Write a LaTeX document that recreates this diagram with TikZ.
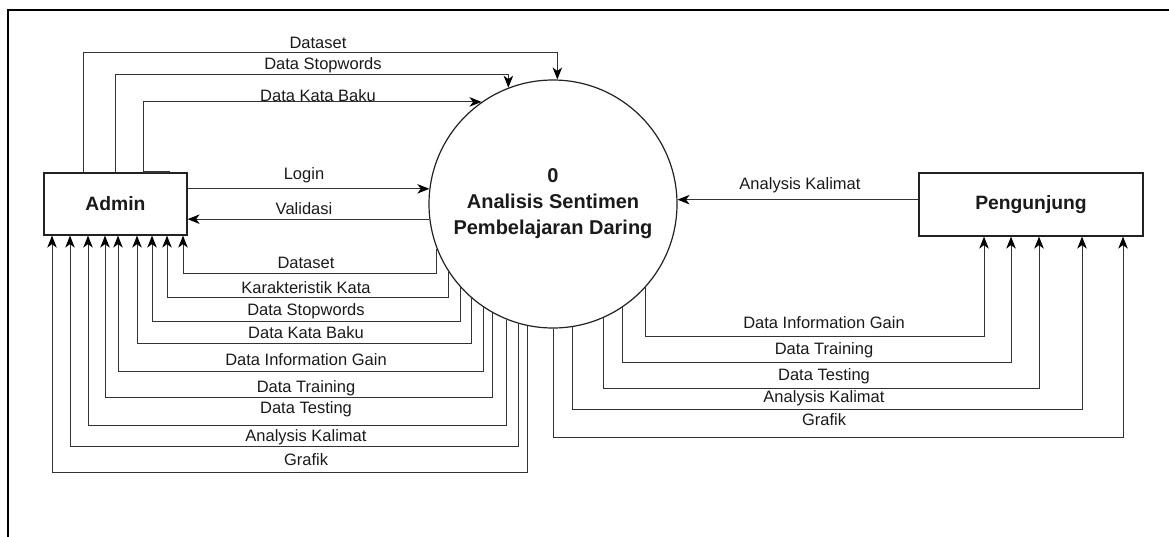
\documentclass[tikz,border=0pt]{standalone}
\usepackage{fontspec}
\setmainfont{Liberation Sans}
\usetikzlibrary{arrows.meta,calc}
\definecolor{linec}{HTML}{333333}
\definecolor{boxc}{HTML}{222222}
\definecolor{txtc}{HTML}{1A1A1A}
\begin{document}
\begin{tikzpicture}[x=1pt,y=-1pt,
  flow/.style={draw=linec, line width=1pt, -{Stealth[length=12pt,width=9.5pt,inset=3.5pt,color=black,fill=black]}},
  ent/.style={draw=boxc, line width=1.2pt, fill=white, text=txtc,
    font=\bfseries\fontsize{19.3}{23}\selectfont, inner sep=0pt},
  proc/.style={circle, draw=boxc, line width=1.2pt, fill=white, text=txtc,
    minimum size=248pt, inner sep=0pt, align=center,
    font=\bfseries\fontsize{20}{26}\selectfont},
  lbl/.style={font=\fontsize{16.5}{20}\selectfont, text=txtc, inner sep=0pt},
]
\useasboundingbox (0,0) rectangle (1169,536);

% page frame
\draw[line width=2pt, black] (7.5,540) -- (7.5,10) -- (1172,10);

% external entities and the process
\node[ent, minimum width=143pt, minimum height=62pt] (adm) at (115.5,204) {Admin};
\node[ent, minimum width=224pt, minimum height=63pt] (pg) at (1031,204.5) {Pengunjung};
\node[proc] (c) at (553,204) {0\\Analisis Sentimen\\Pembelajaran Daring};

% Admin -> process, routed over the top
\coordinate (t1) at (83,52);
\coordinate (t2) at (115,74);
\coordinate (t3) at (143,103);
\draw[flow] (t1 |- adm.north) -- (t1) -| (c.88.6);
\draw[flow] (t2 |- adm.north) -- (t2) -| (c.111.8);
\draw[line width=2pt, linec] (t3 |- adm.north) -- ++(27,0);
\draw[flow] (t3 |- adm.north) |- (c.125.5);
\node[lbl] (lt1) at (318,43) {Dataset};
\node[lbl] (lt2) at (323,65) {Data Stopwords};
\node[lbl] (lt3) at (318,96) {Data Kata Baku};

% login / validation
\draw[flow] (c.173.08 -| adm.east) -- (c.173.08);
\draw[flow] (c.187.85) -- (c.187.85 -| adm.east);
\node[lbl] (llog) at (304,175) {Login};
\node[lbl] (lval) at (304,209) {Validasi};

% Pengunjung -> process
\draw[flow] (c.2.76 -| pg.west) -- (c.2.76);
\node[lbl] (lpg) at (800,185) {Analysis Kalimat};

% process -> Admin, routed underneath
\foreach \cx/\yl/\ax/\ly/\txt [count=\i] in {
    437/273/183/263/Dataset,
    448/297/167/288/Karakteristik Kata,
    460/321/152/311/Data Stopwords,
    471/343/137/333/Data Kata Baku,
    482/371/118/360/Data Information Gain,
    492/397/105/388/Data Training,
    506/425/88/409/Data Testing,
    517/446/70/437/Analysis Kalimat,
    527/472/52/460/Grafik} {
  \pgfmathsetmacro{\ang}{-acos((\cx-553)/124)}
  \coordinate (lr\i) at (\ax,\yl);
  \draw[flow] (c.\ang) |- (lr\i) -- (lr\i |- adm.south);
  \node[lbl] (ll\i) at (306,\ly) {\txt};
}

% process -> Pengunjung, routed underneath
\foreach \cx/\yl/\ax/\ly/\txt [count=\i] in {
    645/336/984/323/Data Information Gain,
    622/362/1011/350/Data Training,
    602/388/1039/376/Data Testing,
    572/409/1082/398/Analysis Kalimat,
    553/437/1123/420/Grafik} {
  \pgfmathsetmacro{\ang}{-acos((\cx-553)/124)}
  \coordinate (rr\i) at (\ax,\yl);
  \draw[flow] (c.\ang) |- (rr\i) -- (rr\i |- pg.south);
  \node[lbl] (rl\i) at (824,\ly) {\txt};
}
\end{tikzpicture}
\end{document}
